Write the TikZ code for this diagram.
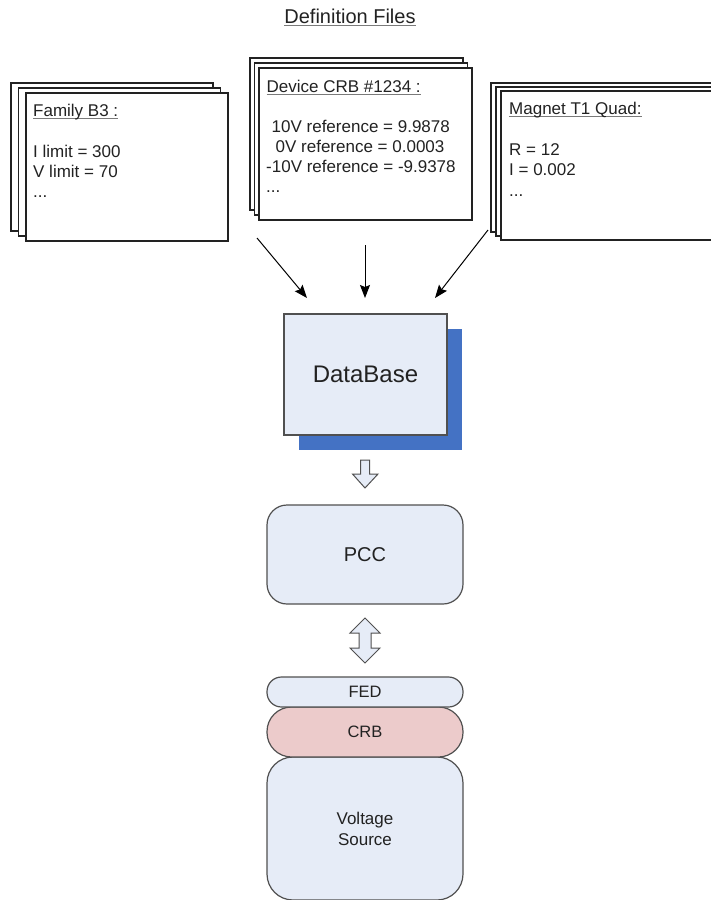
\documentclass[tikz,border=0pt]{standalone}
\usepackage{fontspec}
\setmainfont{Liberation Sans}
\usetikzlibrary{arrows.meta}

\definecolor{panel}{HTML}{E6ECF7}
\definecolor{shadowblue}{HTML}{4472C4}
\definecolor{crbpink}{HTML}{ECCBCB}
\definecolor{edge}{HTML}{505050}
\definecolor{ink}{HTML}{222222}
\definecolor{ulgray}{HTML}{7A7A7A}

% gray underline used for the sheet titles
\newcommand\grayul[1]{\setbox0\hbox{#1}\leavevmode\rlap{\color{ulgray}\rule[-3pt]{\wd0}{1.4pt}}\box0}

\tikzset{
  sheet/.style={draw=ink, line width=1.5pt, fill=white, inner sep=0pt},
  sheettext/.style={anchor=base west, inner sep=0pt, text=ink,
    font=\fontsize{17}{20}\selectfont},
  feed/.style={-{Stealth[length=13pt,width=10pt,inset=2pt]}, line width=1pt, black},
  block/.style={draw=edge, line width=1.2pt, fill=panel, inner sep=0pt,
    minimum width=196pt, text=ink},
  hollow/.style={draw=edge, line width=1pt, fill=panel, line join=miter},
}

\begin{document}
\begin{tikzpicture}[x=1pt, y=-1pt]
\useasboundingbox (0,0) rectangle (711,900);

% title
\node[inner sep=0pt, anchor=base, text=ink, font=\fontsize{20}{24}\selectfont]
  (title) at (350,23) {\grayul{Definition Files}};

% ---- Family B3 stack
\node[sheet, minimum width=202pt, minimum height=148pt] (fam3) at (112,157) {};
\node[sheet, minimum width=202pt, minimum height=148pt] (fam2) at (119.5,162) {};
\node[sheet, minimum width=202pt, minimum height=148pt] (fam)  at (127,167) {};
\node[sheettext] (famt) at (33,116) {\grayul{Family B3 :}};
\node[sheettext] (fam1) at (33,157) {I limit = 300};
\node[sheettext] (fam4) at (33,177.5) {V limit = 70};
\node[sheettext] (fam5) at (33,197) {...};

% ---- Device CRB stack
\node[sheet, minimum width=213pt, minimum height=152pt] (dev3) at (356.5,134) {};
\node[sheet, minimum width=213pt, minimum height=152pt] (dev2) at (361,139) {};
\node[sheet, minimum width=213pt, minimum height=152pt] (dev)  at (365.5,144) {};
\node[sheettext] (devt) at (266.5,92) {\grayul{Device CRB \#1234 :}};
\node[sheettext] (dev1) at (271.5,132) {10V reference = 9.9878};
\node[sheettext] (dev4) at (275.5,152) {0V reference = 0.0003};
\node[sheettext] (dev5) at (266,172) {-10V reference = -9.9378};
\node[sheettext] (dev6) at (266,192) {...};

% ---- Magnet T1 Quad stack
\node[sheet, minimum width=239pt, minimum height=149pt] (mag3) at (610.5,157.5) {};
\node[sheet, minimum width=239pt, minimum height=149pt] (mag2) at (615.5,161.5) {};
\node[sheet, minimum width=239pt, minimum height=149pt] (mag)  at (620.5,165.5) {};
\node[sheettext] (magt) at (509,114) {\grayul{Magnet T1 Quad:}};
\node[sheettext] (mag1) at (509,155) {R = 12};
\node[sheettext] (mag4) at (509,175.5) {I = 0.002};
\node[sheettext] (mag5) at (509,196) {...};

% ---- DataBase with drop shadow
\node[fill=shadowblue, inner sep=0pt, minimum width=163pt, minimum height=121pt]
  (dbshadow) at (380.5,389.5) {};
\node[draw=edge, line width=1.2pt, fill=panel, inner sep=0pt,
  minimum width=163pt, minimum height=121pt, text=ink,
  font=\fontsize{24}{28}\selectfont] (db) at (365.5,374.5) {DataBase};

% feeds from the definition files
\coordinate (famout) at (257,238);
\coordinate (devout) at (365,245);
\coordinate (magout) at (488,230);
\coordinate (dbin1) at (307,298);
\coordinate (dbin2) at (365,298);
\coordinate (dbin3) at (435,298);
\draw[feed] (famout) -- (dbin1);
\draw[feed] (devout) -- (dbin2);
\draw[feed] (magout) -- (dbin3);

% ---- PCC
\node[block, minimum height=99pt, rounded corners=20pt,
  font=\fontsize{20}{24}\selectfont] (pcc) at (365,554.5) {PCC};

% hollow arrow DataBase -> PCC
\coordinate (down) at (365,460);
\draw[hollow] (down) ++(-4.5,0) -- ++(9,0) -- ++(0,14) -- ++(8.5,0)
  -- (365,488) -- (352.5,474) -- (360.5,474) -- cycle;

% hollow double arrow PCC <-> FED
\coordinate (updown) at (365,618);
\draw[hollow] (updown) -- (380,633) -- (371,633) -- (371,648) -- (380,648)
  -- (365,663) -- (350,648) -- (359,648) -- (359,633) -- (350,633) -- cycle;

% ---- hardware stack
\node[block, minimum height=143pt, rounded corners=26pt,
  font=\fontsize{17}{21}\selectfont, align=center] (vs) at (365,828.5) {Voltage\\Source};
\node[block, fill=crbpink, minimum height=50pt, rounded corners=24.5pt,
  font=\fontsize{16.5}{20}\selectfont] (crb) at (365,732) {CRB};
\node[block, minimum height=30pt, rounded corners=14.5pt,
  font=\fontsize{16.5}{20}\selectfont] (fed) at (365,692) {FED};

\end{tikzpicture}
\end{document}
